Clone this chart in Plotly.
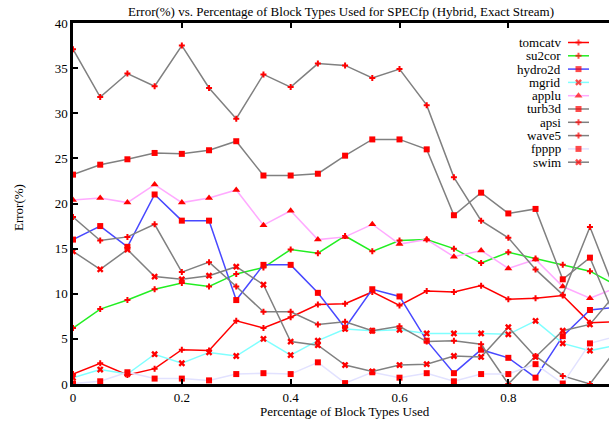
import plotly.graph_objects as go

# ---------------- data ----------------
x_vals = [0.0, 0.05, 0.1, 0.15, 0.2, 0.25, 0.3, 0.35, 0.4, 0.45, 0.5,
          0.55, 0.6, 0.65, 0.7, 0.75, 0.8, 0.85, 0.9, 0.95, 1.0]

series_names = ["tomcatv", "su2cor", "hydro2d", "mgrid", "applu",
                "turb3d", "apsi", "wave5", "fpppp", "swim"]

tomcatv = [1.1, 2.3, 1.0, 1.7, 3.8, 3.7, 7.0, 6.2, 7.4, 8.8, 8.9,
           10.2, 8.7, 10.3, 10.2, 10.9, 9.4, 9.5, 9.8, 6.8, 6.9]
su2cor = [6.2, 8.3, 9.3, 10.5, 11.2, 10.8, 12.2, 12.9, 14.9, 14.5, 16.4,
          14.7, 15.9, 16.0, 15.0, 13.4, 14.6, 13.9, 13.2, 12.5, 10.9]
hydro2d = [16.0, 17.5, 15.2, 21.0, 18.1, 18.1, 9.3, 13.2, 13.2, 10.1, 6.2,
           10.5, 9.7, 4.8, 1.2, 3.8, 2.9, 0.7, 5.3, 8.2, 8.5]
mgrid = [0.7, 1.6, 1.1, 3.3, 2.3, 3.5, 3.1, 5.0, 3.2, 4.8, 6.1,
         5.9, 6.0, 5.6, 5.6, 5.6, 5.5, 7.0, 4.5, 3.7, 4.3]
applu = [20.4, 20.6, 20.1, 22.1, 20.1, 20.6, 21.5, 17.6, 19.2, 16.0, 16.3,
         17.7, 15.5, 16.0, 14.1, 14.8, 12.8, 13.8, 10.8, 9.5, 10.7]
turb3d = [23.2, 24.3, 24.9, 25.6, 25.5, 25.9, 26.9, 23.1, 23.1, 23.3, 25.3,
          27.1, 27.1, 26.0, 18.7, 21.2, 18.9, 19.4, 11.6, 14.0, 6.8]
apsi = [37.1, 31.8, 34.4, 33.0, 37.5, 32.8, 29.4, 34.3, 32.9, 35.5, 35.3,
        33.9, 34.9, 30.9, 22.9, 18.1, 16.2, 12.7, 9.9, 17.4, 9.7]
wave5 = [18.5, 15.9, 16.3, 17.7, 12.4, 13.5, 10.8, 8.0, 8.0, 6.6, 6.9,
         5.9, 6.4, 4.7, 4.8, 4.4, 0.0, 3.1, 0.9, 0.0, 4.0]
fpppp = [0.05, 0.3, 1.3, 0.6, 0.6, 0.4, 1.1, 1.2, 1.1, 2.4, 0.1,
         1.3, 0.7, 1.2, 0.3, 1.1, 1.1, 2.2, 0.05, 4.5, 5.3]
swim = [14.7, 12.7, 14.9, 11.9, 11.6, 12.0, 13.0, 11.0, 4.7, 4.3, 2.1,
        1.4, 2.1, 2.2, 3.1, 3.0, 6.3, 3.0, 5.9, 6.6, 10.2]

series_values = [tomcatv, su2cor, hydro2d, mgrid, applu,
                 turb3d, apsi, wave5, fpppp, swim]

x_ticks = [0, 0.2, 0.4, 0.6, 0.8]
x_tick_labels = ["0", "0.2", "0.4", "0.6", "0.8"]
y_ticks = [0, 5, 10, 15, 20, 25, 30, 35, 40]
y_tick_labels = ["0", "5", "10", "15", "20", "25", "30", "35", "40"]

title_text = "Error(%) vs. Percentage of Block Types Used for SPECfp (Hybrid, Exact Stream)"
x_title = "Percentage of Block Types Used"
y_title = "Error(%)"

# ---------------- styles ----------------
line_colors = ["#ff0000", "#22ee22", "#4848ff", "#80ffff", "#ffaaff",
               "#808080", "#808080", "#808080", "#e2e2ff", "#808080"]
symbols = ["cross", "cross", "square", "x", "triangle-up",
           "square", "cross", "cross", "square", "x"]
marker_sizes = [5, 5, 6, 6, 7, 6, 5, 5, 6, 6]
marker_color = "#ff0000"
FONT = "Liberation Serif, Times New Roman, serif"

W, H = 609, 421
ML, MR, MT, MB = 73, 0, 23, 37
PW, PH = W - ML - MR, H - MT - MB
XMAX = 0.985

def px_to_paper_x(px):
    return (px - ML) / PW

def px_to_paper_y(py):
    return (H - MB - py) / PH

fig = go.Figure()

for name, vals, col, sym, ms in zip(series_names, series_values, line_colors,
                                    symbols, marker_sizes):
    fig.add_trace(go.Scatter(
        x=x_vals, y=vals, name=name, mode="lines+markers",
        line=dict(color=col, width=1.5),
        marker=dict(color=marker_color, symbol=sym, size=ms,
                    line=dict(width=0)),
        showlegend=False,
    ))

# ---------------- hand-made gnuplot-style legend ----------------
leg_text_right = 562
leg_sample_x0, leg_sample_x1 = 568, 589
leg_row0, leg_row_step = 42.5, 13.3
annotations = []
for i, (name, col, sym, ms) in enumerate(zip(series_names, line_colors,
                                             symbols, marker_sizes)):
    py = leg_row0 + i * leg_row_step
    yy = px_to_paper_y(py)
    xa, xb = px_to_paper_x(leg_sample_x0), px_to_paper_x(leg_sample_x1)
    fig.add_trace(go.Scatter(
        x=[xa, (xa + xb) / 2, xb], y=[yy, yy, yy], mode="lines+markers",
        line=dict(color=col, width=1.5),
        marker=dict(color=marker_color, symbol=sym, size=[0, ms, 0],
                    line=dict(width=0)),
        xaxis="x2", yaxis="y2", showlegend=False, hoverinfo="skip",
    ))
    annotations.append(dict(
        text=name, x=px_to_paper_x(leg_text_right), y=yy,
        xref="paper", yref="paper", xanchor="right", yanchor="middle",
        showarrow=False, borderpad=0,
        font=dict(family=FONT, size=13, color="black"),
    ))

annotations.append(dict(
    text=x_title, x=px_to_paper_x(345), y=px_to_paper_y(411),
    xref="paper", yref="paper", xanchor="center", yanchor="middle",
    showarrow=False, font=dict(family=FONT, size=13, color="black"),
))
annotations.append(dict(
    text=y_title, x=px_to_paper_x(18), y=px_to_paper_y(208),
    xref="paper", yref="paper", xanchor="center", yanchor="middle",
    textangle=-90, showarrow=False,
    font=dict(family=FONT, size=13, color="black"),
))

fig.update_layout(
    width=W, height=H,
    margin=dict(l=ML, r=MR, t=MT, b=MB, pad=0),
    paper_bgcolor="white", plot_bgcolor="white",
    font=dict(family=FONT, size=13, color="black"),
    title=dict(text=title_text, x=341 / W, xref="container", xanchor="center",
               y=1 - 11 / H, yref="container", yanchor="middle",
               font=dict(family=FONT, size=13, color="black")),
    xaxis=dict(range=[0, XMAX], tickvals=x_ticks, ticktext=x_tick_labels,
               ticks="inside", ticklen=5, tickwidth=2, tickcolor="black",
               showline=True, linewidth=2.5, linecolor="black",
               mirror="ticks", showgrid=False, zeroline=False,
               tickfont=dict(family=FONT, size=13, color="black")),
    yaxis=dict(range=[0, 40], tickvals=y_ticks, ticktext=y_tick_labels,
               ticks="inside", ticklen=5, tickwidth=2, tickcolor="black",
               showline=True, linewidth=2.5, linecolor="black",
               mirror=False, showgrid=False, zeroline=False,
               tickfont=dict(family=FONT, size=13, color="black")),
    xaxis2=dict(range=[0, 1], overlaying="x", visible=False, fixedrange=True),
    yaxis2=dict(range=[0, 1], overlaying="y", visible=False, fixedrange=True),
    annotations=annotations,
    showlegend=False,
)

fig.write_html("out.html")
